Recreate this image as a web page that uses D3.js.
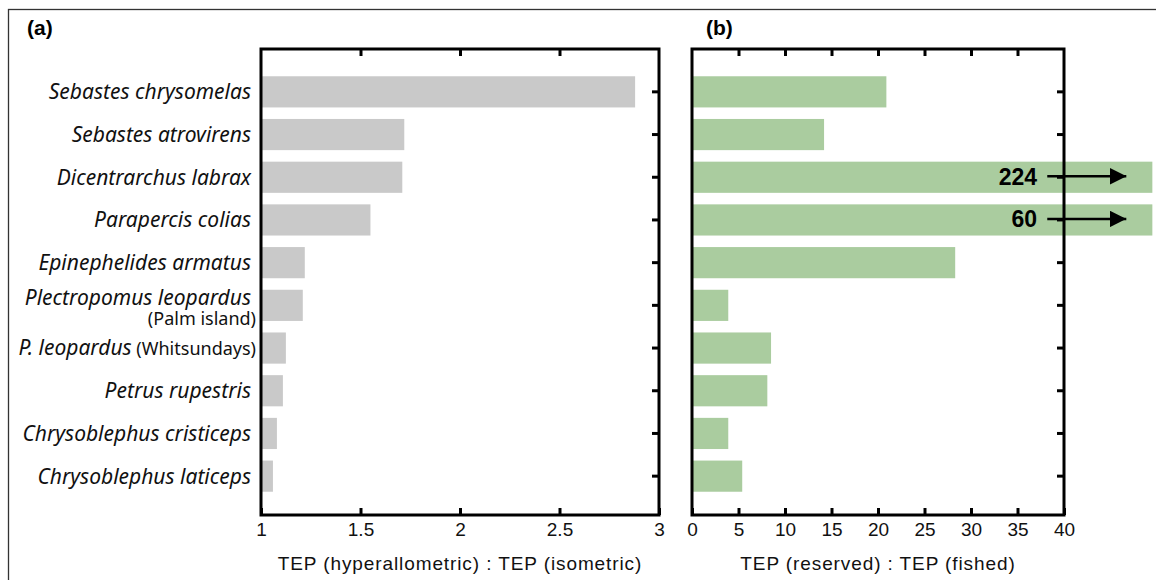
<!DOCTYPE html>
<html>
<head>
<meta charset="utf-8">
<script src="https://cdn.jsdelivr.net/npm/d3@7"></script>
<style>
  body { margin: 0; background: #fff; }
  svg { display: block; }
  .tick text { font-family: "Liberation Sans", Arial, sans-serif; font-size: 19px; fill: #111; }
  .sp { font-family: "Noto Sans", sans-serif; font-size: 21px; fill: #111; }
  .loc { font-style: normal; font-size: 18px; }
  .title { font-family: "Liberation Sans", Arial, sans-serif; font-size: 19px; letter-spacing: 0.9px; fill: #111; }
  .panel { font-family: "Liberation Sans", Arial, sans-serif; font-size: 21px; font-weight: bold; }
</style>
</head>
<body>
<svg id="chart" width="1156" height="580"></svg>
<script>
// species, top to bottom
const species = ["Sebastes chrysomelas", "Sebastes atrovirens", "Dicentrarchus labrax",
  "Parapercis colias", "Epinephelides armatus", "Plectropomus leopardus", "P. leopardus",
  "Petrus rupestris", "Chrysoblephus cristiceps", "Chrysoblephus laticeps"];
const locality = ["", "", "", "", "", "(Palm island)", "(Whitsundays)", "", "", ""];

// (a) TEP hyperallometric : isometric
const hyperRatio = [2.88, 1.72, 1.71, 1.55, 1.22, 1.21, 1.125, 1.11, 1.08, 1.06];
// (b) TEP reserved : fished  (224 and 60 run off the axis)
const reserveRatio = [20.9, 14.2, 224, 60, 28.3, 3.9, 8.5, 8.1, 3.9, 5.4];

const ticksA = [1, 1.5, 2, 2.5, 3];
const ticksB = [0, 5, 10, 15, 20, 25, 30, 35, 40];
const capB = 49.5;   // where the off-scale bars get cut

const svg = d3.select("#chart");
const plotTop = 49, plotBottom = 515;

// outer box
svg.append("rect").attr("x", 8.5).attr("y", 9.5).attr("width", 1170).attr("height", 600)
  .attr("fill", "none").attr("stroke", "#333").attr("stroke-width", 1.3);

const y = d3.scaleBand().domain(species).range([70.5, 497.5])
  .paddingInner(0.27).paddingOuter(0.135);

function panel(x, ticks, values, color, title, tag, fmt) {
  const g = svg.append("g");
  const x0 = x.range()[0], x1 = x.range()[1];

  g.selectAll("rect.bar").data(values).enter().append("rect")
    .attr("class", "bar")
    .attr("x", x0)
    .attr("y", (d, i) => y(species[i]))
    .attr("height", y.bandwidth())
    .attr("width", d => x(Math.min(d, capB)) - x0)
    .attr("fill", color);

  // bottom axis, ticks pointing in
  const ax = g.append("g").attr("transform", `translate(0,${plotBottom})`)
    .call(d3.axisBottom(x).tickValues(ticks).tickFormat(fmt).tickSizeInner(-7).tickSizeOuter(0).tickPadding(8));
  ax.select(".domain").remove();
  ax.selectAll("line").attr("stroke", "#000").attr("stroke-width", 3);

  const axT = g.append("g").attr("transform", `translate(0,${plotTop})`)
    .call(d3.axisTop(x).tickValues(ticks.slice(1, -1)).tickFormat("").tickSizeInner(-7).tickSizeOuter(0));
  axT.select(".domain").remove();
  axT.selectAll("line").attr("stroke", "#000").attr("stroke-width", 3);

  const axR = g.append("g").attr("transform", `translate(${x1},0)`)
    .call(d3.axisRight(y).tickFormat("").tickSizeInner(-7).tickSizeOuter(0));
  axR.select(".domain").remove();
  axR.selectAll("line").attr("stroke", "#000").attr("stroke-width", 3);

  g.append("rect").attr("x", x0).attr("y", plotTop)
    .attr("width", x1 - x0).attr("height", plotBottom - plotTop)
    .attr("fill", "none").attr("stroke", "#000").attr("stroke-width", 3);

  g.append("text").attr("class", "title")
    .attr("x", (x0 + x1) / 2).attr("y", 570)
    .attr("text-anchor", "middle").text(title);

  g.append("text").attr("class", "panel")
    .attr("x", tag.x).attr("y", 35).text(tag.t);
  return g;
}

const xA = d3.scaleLinear().domain([1, 3]).range([261, 659]);
const xB = d3.scaleLinear().domain([0, 40]).range([692, 1064]);

panel(xA, ticksA, hyperRatio, "#c9c9c9", "TEP (hyperallometric) : TEP (isometric)",
  {x: 27, t: "(a)"}, d3.format("~g"));
const gB = panel(xB, ticksB, reserveRatio, "#aacc9f", "TEP (reserved) : TEP (fished)",
  {x: 706, t: "(b)"}, d3.format("d"));

// arrows for off-scale values
svg.append("defs").append("marker").attr("id", "arr")
  .attr("viewBox", "0 0 10 10").attr("refX", 10).attr("refY", 5)
  .attr("markerWidth", 7).attr("markerHeight", 7).attr("markerUnits", "strokeWidth")
  .attr("orient", "auto")
  .append("path").attr("d", "M0,0L10,5L0,10z").attr("fill", "#000");

const off = reserveRatio.map((v, i) => ({v, i})).filter(d => d.v > 40);
off.forEach(d => {
  const cy = y(species[d.i]) + y.bandwidth() / 2;
  gB.append("text").attr("class", "panel")
    .attr("x", xB(37.1)).attr("y", cy - 1).attr("dy", "0.36em")
    .attr("text-anchor", "end").style("font-size", "23px").text(d.v);
  gB.append("line").attr("x1", xB(38.2)).attr("x2", xB(46.7))
    .attr("y1", cy - 1).attr("y2", cy - 1)
    .attr("stroke", "#000").attr("stroke-width", 2.4).attr("marker-end", "url(#arr)");
});

// species labels
species.forEach((s, i) => {
  const cy = y(s) + y.bandwidth() / 2;
  const loc = locality[i];
  const lx = 251;
  if (loc && s.length > 15) {
    svg.append("text").attr("class", "sp").attr("x", lx).attr("y", cy - 8)
      .attr("dy", "0.35em").attr("text-anchor", "end").style("font-style", "italic").text(s);
    svg.append("text").attr("class", "sp loc").attr("x", lx + 5).attr("y", cy + 13)
      .attr("dy", "0.35em").attr("text-anchor", "end").text(loc);
  } else {
    const t = svg.append("text").attr("class", "sp").attr("x", loc ? lx + 5 : lx).attr("y", cy)
      .attr("dy", "0.35em").attr("text-anchor", "end");
    t.append("tspan").style("font-style", "italic").text(s);
    if (loc) t.append("tspan").attr("class", "loc").text(" " + loc);
  }
});
</script>
</body>
</html>
